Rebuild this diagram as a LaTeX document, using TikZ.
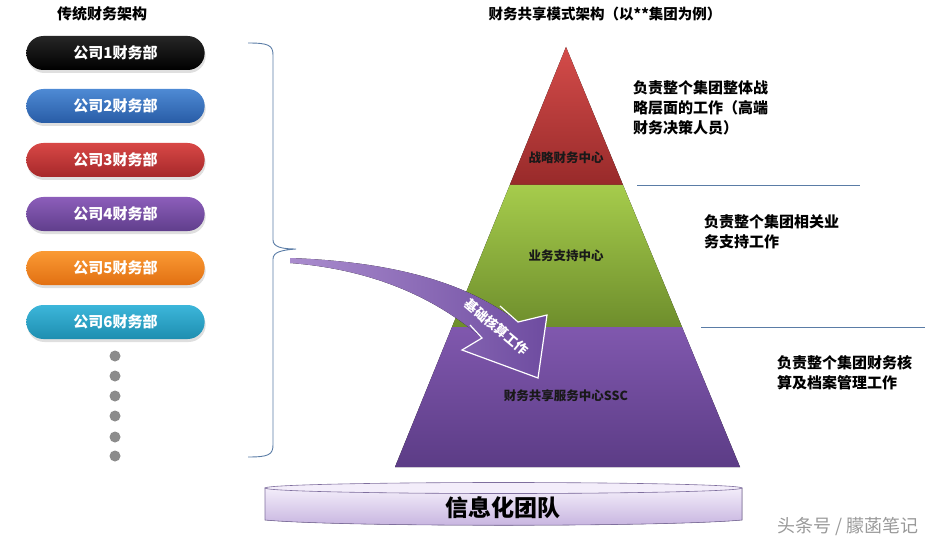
\documentclass[tikz,border=0pt]{standalone}
\usepackage{fontspec}
\setmainfont{Noto Sans CJK SC}
\usetikzlibrary{shapes.misc,shadows}
\definecolor{braceblue}{HTML}{5A7CA6}
\definecolor{pilldot}{HTML}{8C8C8C}
\definecolor{lav1}{HTML}{F3EDFA}
\definecolor{lav2}{HTML}{C6B3DF}
\definecolor{lavline}{HTML}{7F6F9E}

\begin{document}
\begin{tikzpicture}[x=1pt,y=-1pt]
\useasboundingbox (0,0) rectangle (941,545);
\begin{scope}[every node/.style={font=\fontsize{15}{17}\selectfont\bfseries}]
    \node (T1) at (102,14) {传统财务架构};
    \node[font=\fontsize{14.5}{17}\selectfont\bfseries] (T2) at (605,14) {财务共享模式架构（以**集团为例）};
\end{scope}
\begin{scope}[every node/.style={rounded rectangle,minimum width=185pt,minimum height=34pt,
              text=white,font=\fontsize{15}{17}\selectfont\bfseries,
              drop shadow={opacity=.25,shadow xshift=1pt,shadow yshift=-3pt}}]
    \node[top color=black!85,bottom color=black] (P1) at (115.5,53) {公司1财务部};
    \node[top color={rgb,255:red,78;green,138;blue,212},bottom color={rgb,255:red,40;green,92;blue,166}] (P2) at (115.5,106) {公司2财务部};
    \node[top color={rgb,255:red,216;green,72;blue,70},bottom color={rgb,255:red,166;green,40;blue,42}] (P3) at (115.5,160) {公司3财务部};
    \node[top color={rgb,255:red,140;green,94;blue,186},bottom color={rgb,255:red,96;green,62;blue,140}] (P4) at (115.5,214) {公司4财务部};
    \node[top color={rgb,255:red,250;green,154;blue,52},bottom color={rgb,255:red,226;green,112;blue,18}] (P5) at (115.5,268) {公司5财务部};
    \node[top color={rgb,255:red,60;green,182;blue,218},bottom color={rgb,255:red,30;green,142;blue,176}] (P6) at (115.5,322) {公司6财务部};
\end{scope}
\begin{scope}[every node/.style={circle,fill=pilldot,inner sep=0pt,minimum size=11pt}]
    \foreach \y [count=\i] in {356,376,396,416,437,456}
        \node (d\i) at (115,\y) {};
\end{scope}
\coordinate (bt) at (248,43);
\coordinate (bb) at (248,457);
\coordinate (tip) at (296,249);
\draw[braceblue,line width=.9pt] (bt) .. controls (268,43) and (273,45) .. (273,55) -- (273,240)
    .. controls (273,247) and (282,249) .. (tip) .. controls (282,250) and (273,252) .. (273,259)
    -- (273,445) .. controls (273,455) and (268,457) .. (bb);
\fill[top color={rgb,255:red,212;green,76;blue,74},bottom color={rgb,255:red,152;green,42;blue,42}]
    (566,47) -- (623,185) -- (509.8,185) -- cycle;
\fill[top color={rgb,255:red,166;green,204;blue,76},bottom color={rgb,255:red,110;green,142;blue,44}]
    (509.8,185) -- (623,185) -- (682,327) -- (452,327) -- cycle;
\fill[top color={rgb,255:red,128;green,88;blue,174},bottom color={rgb,255:red,92;green,60;blue,134}]
    (452,327) -- (682,327) -- (740,467) -- (395,467) -- cycle;
\begin{scope}[every node/.style={font=\fontsize{12.5}{14}\selectfont\bfseries,text=black!90}]
    \node (L1) at (566,158) {战略财务中心};
    \node (L2) at (566,256) {业务支持中心};
    \node (L3) at (566,396) {财务共享服务中心SSC};
\end{scope}
\coordinate (ar) at (290,258);
\fill[left color={rgb,255:red,170;green,140;blue,206},right color={rgb,255:red,110;green,76;blue,160}]
    (ar) .. controls (400,262) and (470,285) .. (518,322) -- (547,315) -- (538,378)
    -- (462,350) -- (482,338) .. controls (440,302) and (380,270) .. (290,263) -- cycle;
\draw[white,line width=1.2pt,line join=miter]
    (500,306) -- (518,322) -- (547,315) -- (538,378) -- (462,350) -- (482,338) -- (470,325);
\node[rotate=-40,text=white,font=\fontsize{13}{15}\selectfont\bfseries] (A) at (497,327) {基础核算工作};
\begin{scope}[every node/.style={anchor=west,align=left,font=\fontsize{15}{20}\selectfont\bfseries,inner sep=0pt}]
    \node (R1) at (633,108) {负责整个集团整体战\\略层面的工作（高端\\财务决策人员）};
    \node (R2) at (704,232) {负责整个集团相关业\\务支持工作};
    \node (R3) at (777,373) {负责整个集团财务核\\算及档案管理工作};
\end{scope}
\coordinate (s1a) at (637,185);
\coordinate (s1b) at (860,185);
\coordinate (s2a) at (701,327);
\coordinate (s2b) at (925,327);
\draw[braceblue,line width=.8pt] (s1a) -- (s1b);
\draw[braceblue,line width=.8pt] (s2a) -- (s2b);
\fill[top color=lav1,bottom color=lav2,draw=lavline,line width=.6pt]
    (265,488) -- (265,520) .. controls (340,527) and (667,527) .. (742,520) -- (742,488)
    .. controls (667,495) and (340,495) .. (265,488) -- cycle;
\filldraw[fill=lav1,draw=lavline,line width=.6pt] (503.5,488) ellipse [x radius=238.5,y radius=5.5];
\node[font=\fontsize{23}{26}\selectfont\bfseries] (M) at (503,508) {信息化团队};
\node[text=black!40,font=\fontsize{18}{20}\selectfont] (W) at (848,527) {头条号 / 朦菡笔记};
\end{tikzpicture}
\end{document}
